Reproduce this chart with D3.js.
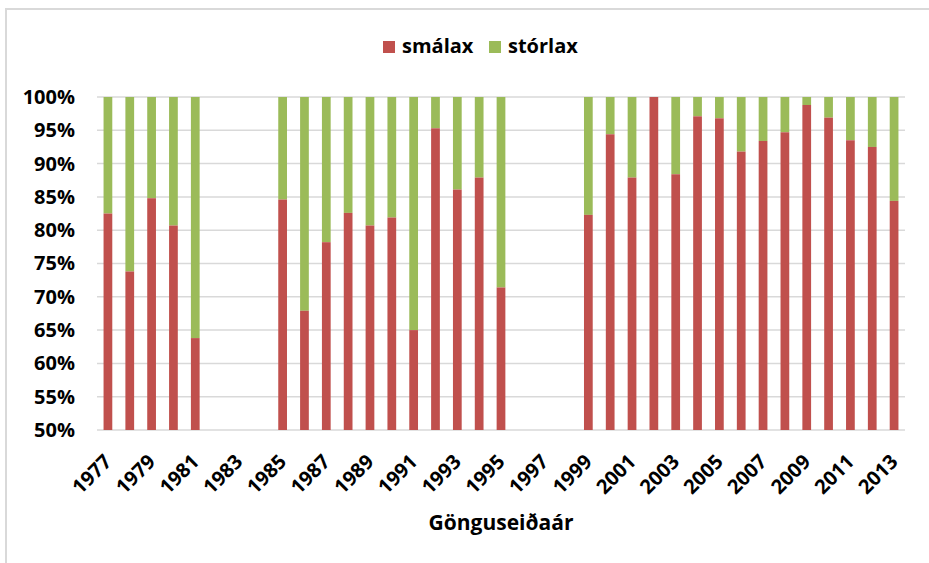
<!DOCTYPE html>
<html>
<head>
<meta charset="utf-8">
<script src="https://cdn.jsdelivr.net/npm/d3@7"></script>
<style>
  body { margin: 0; background: #fff; }
  svg { display: block; font-family: "Open Sans", sans-serif; }
</style>
</head>
<body>
<div id="chart"></div>
<script>
// years on the x axis (gaps have no data)
const years = d3.range(1977, 2014).map(String);
// share of smálax (percent); null = no data
const smalax = [82.5, 73.8, 84.8, 80.7, 63.8, null, null, null,
  84.6, 67.9, 78.2, 82.6, 80.7, 81.9, 65.0, 95.3, 86.1, 87.9, 71.4,
  null, null, null,
  82.3, 94.4, 87.9, 100, 88.4, 97.1, 96.8, 91.8, 93.4, 94.7, 98.8, 96.9, 93.5, 92.5, 84.4];
const seriesNames = ["smálax", "stórlax"];
const colors = ["#C0504D", "#9BBB59"];
const yTicks = [50, 55, 60, 65, 70, 75, 80, 85, 90, 95, 100];

const W = 929, H = 563;
const margin = {top: 97, right: 24, bottom: 133, left: 97};
const width = W - margin.left - margin.right;
const height = H - margin.top - margin.bottom;

const svgRoot = d3.select("#chart").append("svg")
  .attr("width", W).attr("height", H);

// outer chart border
svgRoot.append("rect")
  .attr("x", 6).attr("y", 9)
  .attr("width", W + 20).attr("height", H + 20)
  .attr("fill", "none").attr("stroke", "#d9d9d9").attr("stroke-width", 2);

const svg = svgRoot.append("g")
  .attr("transform", `translate(${margin.left},${margin.top})`);

const x = d3.scaleBand().domain(years).range([0, width]).paddingInner(0.6).paddingOuter(0.3);
const y = d3.scaleLinear().domain([50, 100]).range([height, 0]);

// gridlines
svg.append("g")
  .selectAll("line")
  .data(yTicks)
  .enter().append("line")
  .attr("x1", 0).attr("x2", width)
  .attr("y1", d => y(d)).attr("y2", d => y(d))
  .attr("stroke", "#d9d9d9").attr("stroke-width", 1.5);

const data = years.map((yr, i) => ({year: yr, s: smalax[i]})).filter(d => d.s !== null);

// stórlax (top part)
svg.append("g").selectAll("rect")
  .data(data).enter().append("rect")
  .attr("x", d => x(d.year))
  .attr("width", x.bandwidth())
  .attr("y", y(100))
  .attr("height", d => y(d.s) - y(100))
  .attr("fill", colors[1]);

// smálax (bottom part)
svg.append("g").selectAll("rect")
  .data(data).enter().append("rect")
  .attr("x", d => x(d.year))
  .attr("width", x.bandwidth())
  .attr("y", d => y(d.s))
  .attr("height", d => y(50) - y(d.s))
  .attr("fill", colors[0]);

// y axis
const yAxis = svg.append("g")
  .call(d3.axisLeft(y).tickValues(yTicks).tickFormat(d => d + "%").tickSize(0).tickPadding(22));
yAxis.select(".domain").remove();
yAxis.selectAll("text")
  .style("font-size", "20px").style("font-weight", "bold").attr("fill", "#000")
  .attr("font-family", "'Open Sans', sans-serif");

// x axis, every other year
const xAxis = svg.append("g")
  .attr("transform", `translate(0,${height})`)
  .call(d3.axisBottom(x).tickValues(years.filter((d, i) => i % 2 === 0)).tickSize(0));
xAxis.select(".domain").remove();
xAxis.selectAll("text")
  .style("font-size", "20px").style("font-weight", "bold").attr("fill", "#000")
  .attr("font-family", "'Open Sans', sans-serif")
  .attr("text-anchor", "end")
  .attr("y", 0)
  .attr("dy", "0")
  .attr("transform", "translate(5,33) rotate(-45)");

// x axis title
svg.append("text")
  .attr("x", width / 2)
  .attr("y", height + 100)
  .attr("text-anchor", "middle")
  .style("font-size", "21px").style("font-weight", "bold")
  .text("Gönguseiðaár");

// legend
const legend = svgRoot.append("g").attr("transform", "translate(383,41)");
const legendX = [0, 106];
seriesNames.forEach((name, i) => {
  const g = legend.append("g").attr("transform", `translate(${legendX[i]},0)`);
  g.append("rect").attr("width", 12).attr("height", 12).attr("fill", colors[i]);
  g.append("text").attr("x", 19).attr("y", 12)
    .style("font-size", "20px").style("font-weight", "bold")
    .text(name);
});
</script>
</body>
</html>
